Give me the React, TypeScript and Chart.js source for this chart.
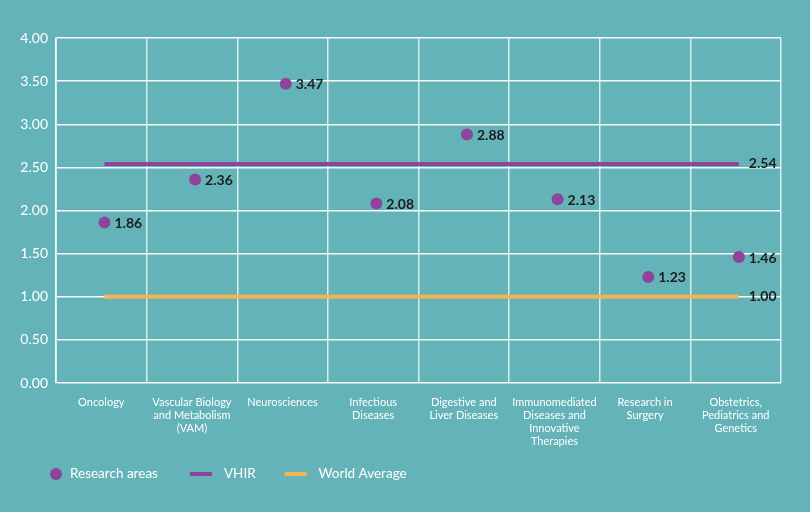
import React, { useEffect, useRef } from "react";
import { Chart, registerables } from "chart.js";

Chart.register(...registerables);

const categories: string[][] = [
  ["Oncology"],
  ["Vascular Biology", "and Metabolism", "(VAM)"],
  ["Neurosciences"],
  ["Infectious", "Diseases"],
  ["Digestive and", "Liver Diseases"],
  ["Immunomediated", "Diseases and", "Innovative", "Therapies"],
  ["Research in", "Surgery"],
  ["Obstetrics,", "Pediatrics and", "Genetics"],
];
const researchAreas = [1.86, 2.36, 3.47, 2.08, 2.88, 2.13, 1.23, 1.46];
const vhirValue = 2.54;
const worldAverageValue = 1.0;
const vhir = categories.map(() => vhirValue);
const worldAverage = categories.map(() => worldAverageValue);
const legendLabels = ["Research areas", "VHIR", "World Average"];

const BG = "#64b3b9";
const PURPLE = "#8f449b";
const ORANGE = "#f6b34f";
const FONT = "Lato, 'Open Sans', sans-serif";

const toPoints = (arr: number[]) => arr.map((y, i) => ({ x: i, y }));

export default function App() {
  const ref = useRef<HTMLCanvasElement>(null);

  useEffect(() => {
    document.body.style.margin = "0";
    document.body.style.background = BG;
    const canvas = ref.current!;

    const labelPlugin = {
      id: "valueLabels",
      afterDatasetsDraw(chart: any) {
        const ctx = chart.ctx;
        ctx.save();
        ctx.font = `bold 14px ${FONT}`;
        ctx.fillStyle = "#1d1d1b";
        ctx.textBaseline = "middle";
        ctx.textAlign = "left";
        const m0 = chart.getDatasetMeta(0);
        m0.data.forEach((p: any, i: number) => {
          ctx.fillText(researchAreas[i].toFixed(2), p.x + 10, p.y + 1);
        });
        [vhir, worldAverage].forEach((arr, k) => {
          const m = chart.getDatasetMeta(k + 1);
          const last = m.data[m.data.length - 1];
          ctx.fillText(arr[arr.length - 1].toFixed(2), last.x + 10, last.y);
        });
        ctx.restore();
      },
      afterDraw(chart: any) {
        const ctx = chart.ctx;
        ctx.save();
        const y = 474;
        ctx.font = `13.5px ${FONT}`;
        ctx.textBaseline = "middle";
        ctx.textAlign = "left";
        let x = 50;
        ctx.beginPath();
        ctx.fillStyle = PURPLE;
        ctx.arc(x + 6, y, 6, 0, Math.PI * 2);
        ctx.fill();
        ctx.fillStyle = "#ffffff";
        ctx.fillText(legendLabels[0], 70, y);
        x = 70 + ctx.measureText(legendLabels[0]).width + 32;
        ctx.fillStyle = PURPLE;
        ctx.fillRect(x, y - 2, 22, 4);
        ctx.fillStyle = "#ffffff";
        ctx.fillText(legendLabels[1], x + 34, y);
        x = x + 34 + ctx.measureText(legendLabels[1]).width + 29;
        ctx.fillStyle = ORANGE;
        ctx.fillRect(x, y - 2, 22, 4);
        ctx.fillStyle = "#ffffff";
        ctx.fillText(legendLabels[2], x + 34, y);
        ctx.restore();
      },
    };

    const chart = new Chart(canvas, {
      type: "line",
      data: {
        labels: categories,
        datasets: [
          {
            label: legendLabels[0],
            data: toPoints(researchAreas),
            xAxisID: "xv",
            showLine: false,
            pointRadius: 6,
            pointHoverRadius: 6,
            pointBackgroundColor: PURPLE,
            pointBorderWidth: 0,
            borderColor: PURPLE,
            backgroundColor: PURPLE,
          },
          {
            label: legendLabels[1],
            data: toPoints(vhir),
            xAxisID: "xv",
            borderColor: PURPLE,
            borderWidth: 4,
            pointRadius: 0,
            fill: false,
          },
          {
            label: legendLabels[2],
            data: toPoints(worldAverage),
            xAxisID: "xv",
            borderColor: ORANGE,
            borderWidth: 4,
            pointRadius: 0,
            fill: false,
          },
        ],
      },
      options: {
        animation: false,
        responsive: false,
        maintainAspectRatio: false,
        parsing: true,
        layout: { padding: { left: 8, right: 29, top: 38, bottom: 0 } },
        plugins: {
          legend: { display: false },
          tooltip: { enabled: false },
        },
        scales: {
          x: {
            type: "category",
            offset: true,
            grid: {
              offset: true,
              color: "rgba(255,255,255,0.75)",
              lineWidth: 1.5,
              drawTicks: false,
            },
            border: { display: false },
            ticks: {
              color: "#ffffff",
              font: { family: FONT, size: 11, lineHeight: 1.18 },
              padding: 13,
              maxRotation: 0,
              autoSkip: false,
            },
            afterFit(scale: any) {
              scale.height = 129;
            },
          },
          xv: {
            type: "linear",
            display: false,
            min: -0.535,
            max: 7.465,
          },
          y: {
            min: 0,
            max: 4,
            grid: {
              color: "rgba(255,255,255,0.95)",
              lineWidth: 1.5,
              drawTicks: false,
            },
            border: { display: true, color: "rgba(255,255,255,0.6)", width: 2 },
            ticks: {
              stepSize: 0.5,
              color: "#ffffff",
              font: { family: FONT, size: 14 },
              padding: 8,
              callback: (v: any) => Number(v).toFixed(2),
            },
            afterFit(scale: any) {
              scale.width = 48;
            },
          },
        },
      },
      plugins: [labelPlugin],
    });
    return () => chart.destroy();
  }, []);

  return (
    <div style={{ position: "absolute", left: 0, top: 0, width: 810, height: 512, background: BG }}>
      <canvas ref={ref} width={810} height={512} style={{ display: "block", width: 810, height: 512 }} />
    </div>
  );
}
